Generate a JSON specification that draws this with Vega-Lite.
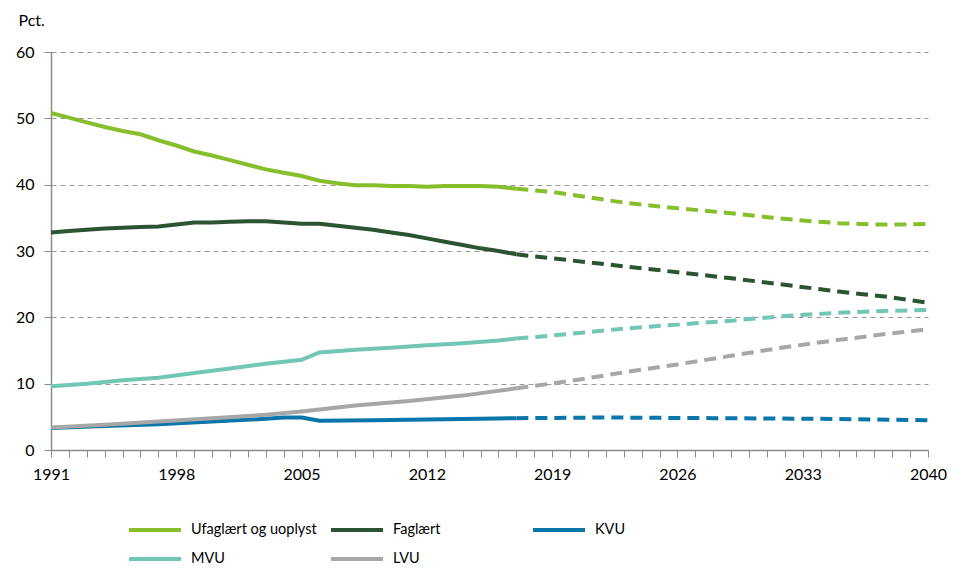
{
  "$schema": "https://vega.github.io/schema/vega-lite/v6.json",
  "width": 877,
  "height": 398,
  "autosize": {"type": "none"},
  "padding": {"left": 51, "top": 52, "right": 29, "bottom": 118},
  "background": "white",
  "config": {
    "font": "Lato",
    "view": {"stroke": null},
    "axis": {"labelFont": "Lato", "labelFontSize": 16, "labelColor": "#000", "domainColor": "#8c8c8c", "tickColor": "#8c8c8c", "domainWidth": 1.5, "tickWidth": 1}
  },
  "datasets": {
    "rows": [
      {"year": 1991, "s": "Ufaglært og uoplyst", "v": 50.8, "t": "hist"},
      {"year": 1992, "s": "Ufaglært og uoplyst", "v": 50.1, "t": "hist"},
      {"year": 1993, "s": "Ufaglært og uoplyst", "v": 49.4, "t": "hist"},
      {"year": 1994, "s": "Ufaglært og uoplyst", "v": 48.7, "t": "hist"},
      {"year": 1995, "s": "Ufaglært og uoplyst", "v": 48.1, "t": "hist"},
      {"year": 1996, "s": "Ufaglært og uoplyst", "v": 47.6, "t": "hist"},
      {"year": 1997, "s": "Ufaglært og uoplyst", "v": 46.7, "t": "hist"},
      {"year": 1998, "s": "Ufaglært og uoplyst", "v": 45.9, "t": "hist"},
      {"year": 1999, "s": "Ufaglært og uoplyst", "v": 45.0, "t": "hist"},
      {"year": 2000, "s": "Ufaglært og uoplyst", "v": 44.4, "t": "hist"},
      {"year": 2001, "s": "Ufaglært og uoplyst", "v": 43.7, "t": "hist"},
      {"year": 2002, "s": "Ufaglært og uoplyst", "v": 43.0, "t": "hist"},
      {"year": 2003, "s": "Ufaglært og uoplyst", "v": 42.3, "t": "hist"},
      {"year": 2004, "s": "Ufaglært og uoplyst", "v": 41.8, "t": "hist"},
      {"year": 2005, "s": "Ufaglært og uoplyst", "v": 41.3, "t": "hist"},
      {"year": 2006, "s": "Ufaglært og uoplyst", "v": 40.6, "t": "hist"},
      {"year": 2007, "s": "Ufaglært og uoplyst", "v": 40.2, "t": "hist"},
      {"year": 2008, "s": "Ufaglært og uoplyst", "v": 39.9, "t": "hist"},
      {"year": 2009, "s": "Ufaglært og uoplyst", "v": 39.9, "t": "hist"},
      {"year": 2010, "s": "Ufaglært og uoplyst", "v": 39.8, "t": "hist"},
      {"year": 2011, "s": "Ufaglært og uoplyst", "v": 39.8, "t": "hist"},
      {"year": 2012, "s": "Ufaglært og uoplyst", "v": 39.7, "t": "hist"},
      {"year": 2013, "s": "Ufaglært og uoplyst", "v": 39.8, "t": "hist"},
      {"year": 2014, "s": "Ufaglært og uoplyst", "v": 39.8, "t": "hist"},
      {"year": 2015, "s": "Ufaglært og uoplyst", "v": 39.8, "t": "hist"},
      {"year": 2016, "s": "Ufaglært og uoplyst", "v": 39.7, "t": "hist"},
      {"year": 2017, "s": "Ufaglært og uoplyst", "v": 39.4, "t": "hist"},
      {"year": 2017, "s": "Ufaglært og uoplyst", "v": 39.4, "t": "proj"},
      {"year": 2019, "s": "Ufaglært og uoplyst", "v": 38.9, "t": "proj"},
      {"year": 2021, "s": "Ufaglært og uoplyst", "v": 38.1, "t": "proj"},
      {"year": 2023, "s": "Ufaglært og uoplyst", "v": 37.3, "t": "proj"},
      {"year": 2025, "s": "Ufaglært og uoplyst", "v": 36.7, "t": "proj"},
      {"year": 2027, "s": "Ufaglært og uoplyst", "v": 36.2, "t": "proj"},
      {"year": 2029, "s": "Ufaglært og uoplyst", "v": 35.7, "t": "proj"},
      {"year": 2031, "s": "Ufaglært og uoplyst", "v": 35.1, "t": "proj"},
      {"year": 2033, "s": "Ufaglært og uoplyst", "v": 34.6, "t": "proj"},
      {"year": 2035, "s": "Ufaglært og uoplyst", "v": 34.2, "t": "proj"},
      {"year": 2037, "s": "Ufaglært og uoplyst", "v": 34.0, "t": "proj"},
      {"year": 2039, "s": "Ufaglært og uoplyst", "v": 34.0, "t": "proj"},
      {"year": 2040, "s": "Ufaglært og uoplyst", "v": 34.1, "t": "proj"},

      {"year": 1991, "s": "Faglært", "v": 32.8, "t": "hist"},
      {"year": 1992, "s": "Faglært", "v": 33.0, "t": "hist"},
      {"year": 1993, "s": "Faglært", "v": 33.2, "t": "hist"},
      {"year": 1994, "s": "Faglært", "v": 33.4, "t": "hist"},
      {"year": 1995, "s": "Faglært", "v": 33.5, "t": "hist"},
      {"year": 1996, "s": "Faglært", "v": 33.6, "t": "hist"},
      {"year": 1997, "s": "Faglært", "v": 33.7, "t": "hist"},
      {"year": 1998, "s": "Faglært", "v": 34.0, "t": "hist"},
      {"year": 1999, "s": "Faglært", "v": 34.3, "t": "hist"},
      {"year": 2000, "s": "Faglært", "v": 34.3, "t": "hist"},
      {"year": 2001, "s": "Faglært", "v": 34.4, "t": "hist"},
      {"year": 2002, "s": "Faglært", "v": 34.5, "t": "hist"},
      {"year": 2003, "s": "Faglært", "v": 34.5, "t": "hist"},
      {"year": 2004, "s": "Faglært", "v": 34.3, "t": "hist"},
      {"year": 2005, "s": "Faglært", "v": 34.1, "t": "hist"},
      {"year": 2006, "s": "Faglært", "v": 34.1, "t": "hist"},
      {"year": 2007, "s": "Faglært", "v": 33.8, "t": "hist"},
      {"year": 2008, "s": "Faglært", "v": 33.5, "t": "hist"},
      {"year": 2009, "s": "Faglært", "v": 33.2, "t": "hist"},
      {"year": 2010, "s": "Faglært", "v": 32.8, "t": "hist"},
      {"year": 2011, "s": "Faglært", "v": 32.4, "t": "hist"},
      {"year": 2012, "s": "Faglært", "v": 31.9, "t": "hist"},
      {"year": 2013, "s": "Faglært", "v": 31.4, "t": "hist"},
      {"year": 2014, "s": "Faglært", "v": 30.9, "t": "hist"},
      {"year": 2015, "s": "Faglært", "v": 30.4, "t": "hist"},
      {"year": 2016, "s": "Faglært", "v": 30.0, "t": "hist"},
      {"year": 2017, "s": "Faglært", "v": 29.5, "t": "hist"},
      {"year": 2017, "s": "Faglært", "v": 29.5, "t": "proj"},
      {"year": 2020, "s": "Faglært", "v": 28.6, "t": "proj"},
      {"year": 2023, "s": "Faglært", "v": 27.7, "t": "proj"},
      {"year": 2026, "s": "Faglært", "v": 26.8, "t": "proj"},
      {"year": 2029, "s": "Faglært", "v": 25.9, "t": "proj"},
      {"year": 2032, "s": "Faglært", "v": 24.9, "t": "proj"},
      {"year": 2035, "s": "Faglært", "v": 23.9, "t": "proj"},
      {"year": 2038, "s": "Faglært", "v": 23.0, "t": "proj"},
      {"year": 2040, "s": "Faglært", "v": 22.2, "t": "proj"},

      {"year": 1991, "s": "KVU", "v": 3.3, "t": "hist"},
      {"year": 1994, "s": "KVU", "v": 3.6, "t": "hist"},
      {"year": 1997, "s": "KVU", "v": 3.9, "t": "hist"},
      {"year": 2000, "s": "KVU", "v": 4.3, "t": "hist"},
      {"year": 2003, "s": "KVU", "v": 4.7, "t": "hist"},
      {"year": 2004, "s": "KVU", "v": 4.9, "t": "hist"},
      {"year": 2005, "s": "KVU", "v": 4.9, "t": "hist"},
      {"year": 2006, "s": "KVU", "v": 4.4, "t": "hist"},
      {"year": 2009, "s": "KVU", "v": 4.5, "t": "hist"},
      {"year": 2012, "s": "KVU", "v": 4.6, "t": "hist"},
      {"year": 2015, "s": "KVU", "v": 4.7, "t": "hist"},
      {"year": 2017, "s": "KVU", "v": 4.8, "t": "hist"},
      {"year": 2017, "s": "KVU", "v": 4.8, "t": "proj"},
      {"year": 2022, "s": "KVU", "v": 4.9, "t": "proj"},
      {"year": 2028, "s": "KVU", "v": 4.8, "t": "proj"},
      {"year": 2034, "s": "KVU", "v": 4.7, "t": "proj"},
      {"year": 2040, "s": "KVU", "v": 4.5, "t": "proj"},

      {"year": 1991, "s": "MVU", "v": 9.6, "t": "hist"},
      {"year": 1993, "s": "MVU", "v": 10.0, "t": "hist"},
      {"year": 1995, "s": "MVU", "v": 10.5, "t": "hist"},
      {"year": 1997, "s": "MVU", "v": 10.9, "t": "hist"},
      {"year": 1999, "s": "MVU", "v": 11.6, "t": "hist"},
      {"year": 2001, "s": "MVU", "v": 12.3, "t": "hist"},
      {"year": 2003, "s": "MVU", "v": 13.0, "t": "hist"},
      {"year": 2005, "s": "MVU", "v": 13.6, "t": "hist"},
      {"year": 2006, "s": "MVU", "v": 14.7, "t": "hist"},
      {"year": 2008, "s": "MVU", "v": 15.1, "t": "hist"},
      {"year": 2010, "s": "MVU", "v": 15.4, "t": "hist"},
      {"year": 2012, "s": "MVU", "v": 15.8, "t": "hist"},
      {"year": 2014, "s": "MVU", "v": 16.1, "t": "hist"},
      {"year": 2016, "s": "MVU", "v": 16.5, "t": "hist"},
      {"year": 2017, "s": "MVU", "v": 16.8, "t": "hist"},
      {"year": 2017, "s": "MVU", "v": 16.8, "t": "proj"},
      {"year": 2020, "s": "MVU", "v": 17.5, "t": "proj"},
      {"year": 2023, "s": "MVU", "v": 18.3, "t": "proj"},
      {"year": 2026, "s": "MVU", "v": 18.9, "t": "proj"},
      {"year": 2029, "s": "MVU", "v": 19.5, "t": "proj"},
      {"year": 2032, "s": "MVU", "v": 20.2, "t": "proj"},
      {"year": 2035, "s": "MVU", "v": 20.7, "t": "proj"},
      {"year": 2038, "s": "MVU", "v": 21.0, "t": "proj"},
      {"year": 2040, "s": "MVU", "v": 21.1, "t": "proj"},

      {"year": 1991, "s": "LVU", "v": 3.4, "t": "hist"},
      {"year": 1994, "s": "LVU", "v": 3.8, "t": "hist"},
      {"year": 1997, "s": "LVU", "v": 4.3, "t": "hist"},
      {"year": 2000, "s": "LVU", "v": 4.8, "t": "hist"},
      {"year": 2003, "s": "LVU", "v": 5.3, "t": "hist"},
      {"year": 2005, "s": "LVU", "v": 5.8, "t": "hist"},
      {"year": 2008, "s": "LVU", "v": 6.7, "t": "hist"},
      {"year": 2011, "s": "LVU", "v": 7.4, "t": "hist"},
      {"year": 2014, "s": "LVU", "v": 8.2, "t": "hist"},
      {"year": 2017, "s": "LVU", "v": 9.3, "t": "hist"},
      {"year": 2017, "s": "LVU", "v": 9.3, "t": "proj"},
      {"year": 2020, "s": "LVU", "v": 10.4, "t": "proj"},
      {"year": 2023, "s": "LVU", "v": 11.7, "t": "proj"},
      {"year": 2026, "s": "LVU", "v": 12.9, "t": "proj"},
      {"year": 2029, "s": "LVU", "v": 14.2, "t": "proj"},
      {"year": 2032, "s": "LVU", "v": 15.5, "t": "proj"},
      {"year": 2035, "s": "LVU", "v": 16.6, "t": "proj"},
      {"year": 2038, "s": "LVU", "v": 17.6, "t": "proj"},
      {"year": 2040, "s": "LVU", "v": 18.2, "t": "proj"}
    ]
  },
  "data": {"name": "rows"},
  "encoding": {
    "x": {
      "field": "year", "type": "quantitative",
      "scale": {"domain": [1991, 2040], "nice": false, "zero": false},
      "axis": {
        "title": null,
        "values": [1991,1992,1993,1994,1995,1996,1997,1998,1999,2000,2001,2002,2003,2004,2005,2006,2007,2008,2009,2010,2011,2012,2013,2014,2015,2016,2017,2018,2019,2020,2021,2022,2023,2024,2025,2026,2027,2028,2029,2030,2031,2032,2033,2034,2035,2036,2037,2038,2039,2040],
        "labelExpr": "(datum.value - 1991) % 7 == 0 ? format(datum.value, 'd') : ''",
        "grid": false,
        "tickSize": 7,
        "labelPadding": 9,
        "labelOverlap": false,
        "labelFlush": false
      }
    },
    "y": {
      "field": "v", "type": "quantitative",
      "scale": {"domain": [0, 60], "nice": false},
      "axis": {
        "values": [0, 10, 20, 30, 40, 50, 60],
        "title": "Pct.",
        "titleAngle": 0,
        "titleAlign": "left",
        "titleBaseline": "bottom",
        "titleX": -33,
        "titleY": -24,
        "titleFont": "Lato",
        "titleFontSize": 16,
        "titleFontWeight": "normal",
        "titleColor": "#000",
        "grid": true,
        "gridColor": "#9a9a9a",
        "gridDash": [5, 4],
        "gridWidth": 1,
        "tickSize": 7,
        "labelPadding": 10
      }
    },
    "color": {
      "field": "s", "type": "nominal",
      "scale": {
        "domain": ["Ufaglært og uoplyst", "Faglært", "KVU", "MVU", "LVU"],
        "range": ["#86bf2b", "#2a5432", "#0a76a9", "#72c6b6", "#a7a7a7"]
      },
      "legend": {
        "title": null,
        "orient": "none",
        "legendX": 92,
        "legendY": 466,
        "direction": "horizontal",
        "columns": 3,
        "gridAlign": "all",
        "columnPadding": 6,
        "rowPadding": 9,
        "symbolType": "M-2.6,0H2.6",
        "symbolSize": 400,
        "symbolStrokeWidth": 4,
        "symbolDash": [1, 0],
        "labelFont": "Lato",
        "labelFontSize": 14.5,
        "labelColor": "#000",
        "labelOffset": 24,
        "labelLimit": 300
      }
    },
    "detail": {"field": "t"}
  },
  "layer": [
    {
      "transform": [{"filter": "datum.t == 'hist'"}],
      "mark": {"type": "line", "strokeWidth": 4, "strokeCap": "butt"}
    },
    {
      "transform": [{"filter": "datum.t == 'proj'"}],
      "mark": {"type": "line", "strokeWidth": 4, "strokeDash": [12, 7], "strokeCap": "butt"}
    }
  ]
}
